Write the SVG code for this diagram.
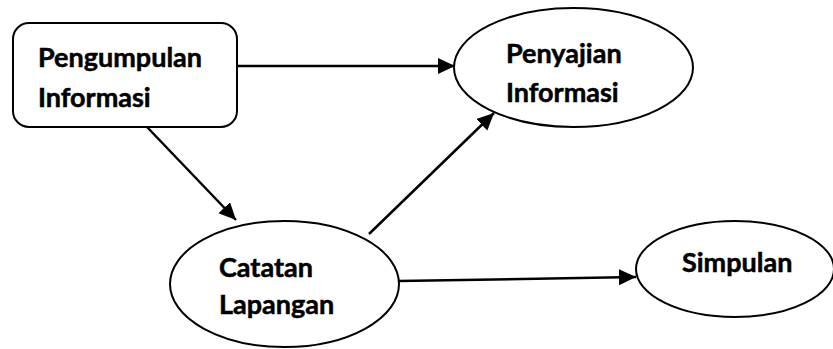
<svg xmlns="http://www.w3.org/2000/svg" width="833" height="349" viewBox="0 0 833 349">
<style>
.shape{fill:#fff;stroke:#000;stroke-width:2}
.lbl{font-family:Lato,"Liberation Sans",Arial,sans-serif;font-weight:bold;font-size:27px;fill:#000;stroke:#000;stroke-width:0.5}
.conn{stroke:#000;stroke-width:2.5;fill:none;marker-end:url(#ah)}
</style>
<defs>
<marker id="ah" markerUnits="userSpaceOnUse" markerWidth="20" markerHeight="18" refX="17" refY="8" orient="auto">
<path d="M0,0 L17,8 L0,16 Z" fill="#000"/>
</marker>
</defs>
<rect width="833" height="349" fill="#fff"/>
<g id="pengumpulan">
<rect class="shape" x="13" y="23" width="224" height="104" rx="16"/>
<text class="lbl" x="38" y="67">Pengumpulan</text>
<text class="lbl" x="38" y="107">Informasi</text>
</g>
<g id="penyajian">
<ellipse class="shape" cx="573.5" cy="67.5" rx="119.5" ry="59.5"/>
<text class="lbl" x="506" y="63">Penyajian</text>
<text class="lbl" x="506" y="102">Informasi</text>
</g>
<g id="catatan">
<ellipse class="shape" cx="284.5" cy="284" rx="114.5" ry="63"/>
<text class="lbl" x="219" y="277">Catatan</text>
<text class="lbl" x="219" y="314">Lapangan</text>
</g>
<g id="simpulan">
<ellipse class="shape" cx="735" cy="269" rx="99" ry="48"/>
<text class="lbl" x="682" y="272">Simpulan</text>
</g>
<g id="connectors">
<line class="conn" x1="237" y1="66" x2="455" y2="66"/>
<line class="conn" x1="147" y1="127" x2="236" y2="220"/>
<line class="conn" x1="369" y1="234" x2="494" y2="113"/>
<line class="conn" x1="399" y1="281" x2="636" y2="277"/>
</g>
</svg>
